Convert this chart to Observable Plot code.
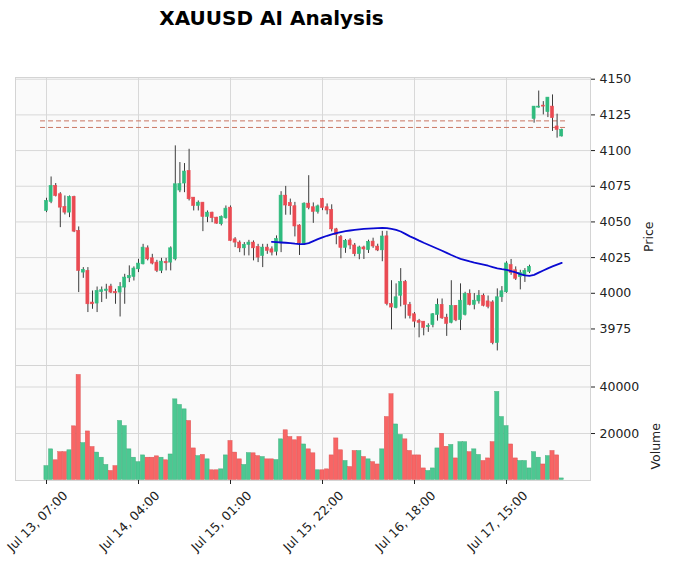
<!DOCTYPE html>
<html><head><meta charset="utf-8">
<script src="https://cdn.jsdelivr.net/npm/d3@7"></script>
<script src="https://cdn.jsdelivr.net/npm/@observablehq/plot@0.6"></script>
<style>
body{margin:0;background:#fff;font-family:"DejaVu Sans",sans-serif;}
#wrap{position:relative;width:674px;height:570px;overflow:hidden;}
#title{position:absolute;left:0;width:543px;top:8px;text-align:center;font-weight:bold;font-size:20px;line-height:20px;color:#000;}
#price{position:absolute;left:0;top:0;}
#vol{position:absolute;left:0;top:365px;}
</style></head><body>
<div id="wrap"><div id="title">XAUUSD AI Analysis</div><div id="price"></div><div id="vol"></div></div>
<script>
const opens = [4057.7,4064.0,4075.2,4069.4,4060.5,4056.5,4067.5,4043.7,4014.5,4015.7,3993.5,3992.8,4000.9,4001.6,4004.7,4000.9,4000.5,4004.0,4010.5,4011.4,
4016.8,4020.3,4031.5,4024.5,4021.5,4015.7,4022.0,4021.5,4023.8,4072.0,4076.9,4085.7,4067.0,4061.2,4063.5,4053.5,4056.5,4053.0,4048.4,4052.6,
4060.0,4037.8,4035.5,4031.5,4033.9,4035.5,4032.5,4026.2,4032.0,4030.8,4029.1,4035.0,4068.4,4063.3,4061.0,4047.5,4034.6,4062.8,4060.3,4057.0,
4066.1,4060.3,4058.4,4044.8,4039.5,4031.8,4037.0,4033.5,4027.4,4032.1,4030.2,4036.2,4032.7,4030.1,4039.9,3992.4,3989.6,3998.3,4007.8,3991.9,
3985.3,3980.5,3980.1,3976.3,3977.7,3984.8,3991.9,3982.9,3979.3,3991.2,3981.2,3984.8,3999.5,3991.9,3994.3,3998.3,3994.3,3993.6,3965.1,3997.2,
4000.7,4019.7,4016.1,4011.4,4011.9,4015.0,4122.2,4130.1,4131.5,4126.9,4130.8,4116.9,4109.9];
const highs = [4066.6,4081.5,4076.9,4070.5,4068.2,4068.2,4068.0,4046.5,4018.0,4018.0,4001.6,4004.4,4004.4,4006.3,4006.3,4002.8,4007.5,4013.3,4019.2,4018.5,
4023.8,4034.3,4033.2,4027.3,4023.1,4024.5,4024.5,4032.5,4103.3,4091.6,4090.9,4100.9,4067.0,4064.7,4063.5,4057.7,4056.8,4053.2,4054.2,4061.2,
4061.2,4039.0,4036.7,4035.5,4037.1,4036.7,4034.3,4034.3,4034.3,4032.5,4040.2,4071.2,4074.9,4066.0,4063.7,4048.0,4063.4,4082.4,4063.3,4061.8,
4066.5,4062.6,4062.0,4045.5,4040.5,4037.7,4038.2,4034.9,4033.0,4033.0,4037.2,4038.6,4034.4,4043.4,4043.4,4008.8,4006.6,4017.3,4009.0,3993.6,
3986.5,3981.7,3980.1,3978.6,3985.8,3996.0,3996.0,3985.3,4008.8,3991.2,4006.6,4000.7,4002.4,3999.8,4001.9,3999.5,3998.1,3994.8,4003.1,4004.7,
4022.1,4023.7,4018.5,4016.1,4017.3,4019.7,4130.8,4141.7,4134.3,4137.1,4139.0,4125.5,4115.0];
const lows = [4056.5,4062.8,4067.5,4046.0,4054.9,4053.0,4042.5,4000.5,4010.5,3986.5,3988.8,3986.5,3993.5,3995.8,3999.8,3992.3,3983.4,3992.3,4007.5,4008.6,
4014.5,4019.9,4022.7,4019.9,4014.5,4013.8,4015.7,4015.7,4022.7,4070.5,4070.5,4064.7,4057.7,4057.7,4043.2,4049.5,4049.5,4048.4,4047.2,4051.9,
4036.2,4032.0,4028.5,4026.2,4026.2,4022.7,4021.5,4018.0,4027.3,4026.2,4026.2,4028.5,4054.7,4054.7,4039.5,4026.5,4033.8,4058.5,4049.0,4055.5,
4057.9,4055.0,4043.0,4034.0,4024.2,4028.0,4030.6,4025.6,4023.5,4023.7,4027.9,4031.5,4029.2,4022.1,3991.2,3974.4,3989.1,3990.5,3982.0,3982.0,
3975.8,3968.8,3970.2,3972.6,3975.8,3980.5,3981.7,3969.8,3978.6,3980.1,3973.9,3984.1,3991.2,3988.4,3992.4,3990.5,3989.1,3963.9,3959.6,3993.6,
4000.0,4012.6,4009.0,4002.4,4007.6,4013.8,4119.2,4129.7,4125.0,4123.1,4113.4,4108.7,4109.5];
const closes = [4064.7,4075.2,4068.2,4060.0,4056.5,4067.5,4043.2,4015.7,4016.4,3992.3,3992.3,4001.6,4002.1,4002.6,4000.5,4000.0,4004.4,4011.0,4012.1,4017.3,
4020.8,4032.0,4023.8,4020.8,4015.7,4022.2,4021.0,4031.5,4076.4,4076.5,4085.3,4065.9,4061.2,4063.5,4053.5,4056.5,4052.6,4048.8,4053.5,4059.3,
4036.7,4035.5,4031.5,4033.9,4035.5,4031.5,4025.0,4032.0,4029.7,4028.5,4038.0,4068.4,4061.5,4061.0,4046.8,4035.0,4062.8,4059.8,4057.0,4060.9,
4059.7,4058.0,4044.8,4040.9,4031.8,4036.7,4033.5,4027.4,4032.1,4030.7,4036.0,4032.8,4030.0,4039.8,3992.4,3990.0,3997.2,4007.8,3991.9,3984.1,
3980.1,3979.3,3975.8,3977.0,3985.3,3991.9,3982.4,3978.6,3991.2,3981.0,3994.8,3999.5,3991.9,3994.8,3998.3,3991.2,3990.5,3965.1,3997.2,4001.4,
4020.9,4014.2,4010.2,4014.2,4015.7,4018.5,4130.8,4130.8,4130.8,4137.1,4122.7,4114.5,4114.5];
const volumes = [6000,13200,8500,12000,12000,12800,23100,45200,15900,20900,14200,11800,9600,6500,3900,6000,25400,23200,13200,9600,
7700,10600,9600,9600,10200,9600,8500,11000,34700,32300,30400,25400,13600,10300,10800,8900,4200,4200,4600,10600,
16800,11800,8900,6500,11600,11500,10300,9900,8900,8900,8600,17500,21400,18500,17100,18500,15300,13200,11500,4200,
4200,4600,10600,17900,12800,8200,5600,12500,12500,9900,8900,7700,6700,13200,27100,36900,23900,19400,17500,12500,
10600,10600,5000,3900,5000,13600,19900,14300,15100,9300,16300,16300,12000,13200,10800,8200,9300,16300,37900,27100,
23200,15300,9300,8200,8200,5000,12000,9600,6700,10300,12500,10600,700];
const maStart = 49;
const maValues = [4036.0,4035.8,4035.6,4035.4,4035.2,4034.8,4034.5,4034.4,4035.2,4036.6,4037.9,4039.2,4040.3,4041.3,4042.2,4042.9,4043.5,4044.0,4044.4,4044.8,
4045.1,4045.3,4045.5,4045.7,4045.8,4045.6,4045.1,4044.4,4043.3,4041.6,4039.9,4038.5,4036.9,4035.4,4034.0,4032.6,4031.2,4029.8,4028.3,4026.8,
4025.4,4024.1,4023.2,4022.3,4021.5,4020.8,4020.1,4019.3,4018.4,4017.5,4016.9,4016.4,4015.6,4014.6,4013.4,4012.6,4012.2,4012.9,4014.5,4016.0,
4017.5,4018.8,4020.1,4021.3];
const levelPrices = [4120.8, 4116.2];
const levelSpan = [-1.3, 113.3];
const tickIndex = [0, 20, 40, 60, 80, 100];
const tickLabels = ["Jul 13, 07:00","Jul 14, 04:00","Jul 15, 01:00","Jul 15, 22:00","Jul 16, 18:00","Jul 17, 15:00"];
const priceTicks = [3975, 4000, 4025, 4050, 4075, 4100, 4125, 4150];
const volumeTicks = [20000, 40000];

const bars = opens.map((o, i) => ({i, open: o, high: highs[i], low: lows[i], close: closes[i], volume: volumes[i], up: closes[i] >= o}));
const ma = maValues.map((v, k) => ({i: maStart + k, ma: v}));
const levels = levelPrices.map(p => ({y: p, x1: levelSpan[0], x2: levelSpan[1]}));

const UP = "#2fbb7e", DOWN = "#ea4a52";
const VUP = "#4cc892", VDOWN = "#f86565";
const xDomain = [-6.74, 118.26];
const font = "DejaVu Sans";
const gridColor = "#d8d8d8";

const price = Plot.plot({
  width: 674, height: 365,
  marginTop: 77, marginBottom: 0, marginLeft: 15, marginRight: 84,
  style: {background: "transparent", fontFamily: font, fontSize: "12.5px", color: "#222", overflow: "visible"},
  x: {domain: xDomain, axis: null},
  y: {domain: [3949.4, 4151.2], axis: null},
  marks: [
    Plot.frame({fill: "#fafafa"}),
    Plot.gridX(tickIndex, {stroke: gridColor, strokeOpacity: 1}),
    Plot.gridY(priceTicks, {stroke: gridColor, strokeOpacity: 1}),
    Plot.ruleY(levels, {y: "y", x1: "x1", x2: "x2", stroke: "#c97662", strokeDasharray: "5,3", strokeWidth: 1}),
    Plot.ruleX(bars, {x: "i", y1: "low", y2: "high", stroke: "#3c3c3c", strokeWidth: 1}),
    Plot.rect(bars, {x1: d => d.i - 0.33, x2: d => d.i + 0.33, y1: "open", y2: "close",
      fill: d => d.up ? UP : DOWN, stroke: d => d.up ? UP : DOWN, strokeWidth: 0.6}),
    Plot.line(ma, {x: "i", y: "ma", stroke: "#0a0ad2", strokeWidth: 1.8}),
    Plot.frame({stroke: "#d4d4d4"}),
    Plot.axisY(priceTicks, {anchor: "right", tickSize: 4, tickPadding: 5, fontSize: 12.5, label: null, tickFormat: d => String(d)}),
    Plot.text(["Price"], {frameAnchor: "right", dx: 58, rotate: -90, fontSize: 12.5, fill: "#222"})
  ]
});
document.getElementById("price").appendChild(price);

const vol = Plot.plot({
  width: 674, height: 205,
  marginTop: 0, marginBottom: 90, marginLeft: 15, marginRight: 84,
  style: {background: "transparent", fontFamily: font, fontSize: "12.5px", color: "#222", overflow: "visible"},
  x: {domain: xDomain, axis: null},
  y: {domain: [-200, 49250], axis: null},
  marks: [
    Plot.frame({fill: "#fafafa"}),
    Plot.gridX(tickIndex, {stroke: gridColor, strokeOpacity: 1}),
    Plot.gridY(volumeTicks, {stroke: gridColor, strokeOpacity: 1}),
    Plot.rect(bars, {x1: d => d.i - 0.46, x2: d => d.i + 0.46, y1: 0, y2: "volume",
      fill: d => d.up ? VUP : VDOWN, stroke: d => d.up ? "#35a673" : "#d64848", strokeWidth: 0.5, strokeOpacity: 0.8}),
    Plot.frame({stroke: "#d4d4d4"}),
    Plot.axisY(volumeTicks, {anchor: "right", tickSize: 4, tickPadding: 5, fontSize: 12.5, label: null, tickFormat: d => String(d)}),
    Plot.axisX(tickIndex, {anchor: "bottom", tickSize: 4, label: null, tickFormat: () => ""}),
    Plot.text(tickIndex, {x: d => d, frameAnchor: "bottom", text: d => tickLabels[tickIndex.indexOf(d)],
      rotate: -45, textAnchor: "end", lineAnchor: "middle", dx: 19, dy: 13, fontSize: 12.5, fill: "#222"}),
    Plot.text(["Volume"], {frameAnchor: "right", dx: 65, rotate: -90, fontSize: 12.5, fill: "#222"})
  ]
});
document.getElementById("vol").appendChild(vol);
</script>
</body></html>
